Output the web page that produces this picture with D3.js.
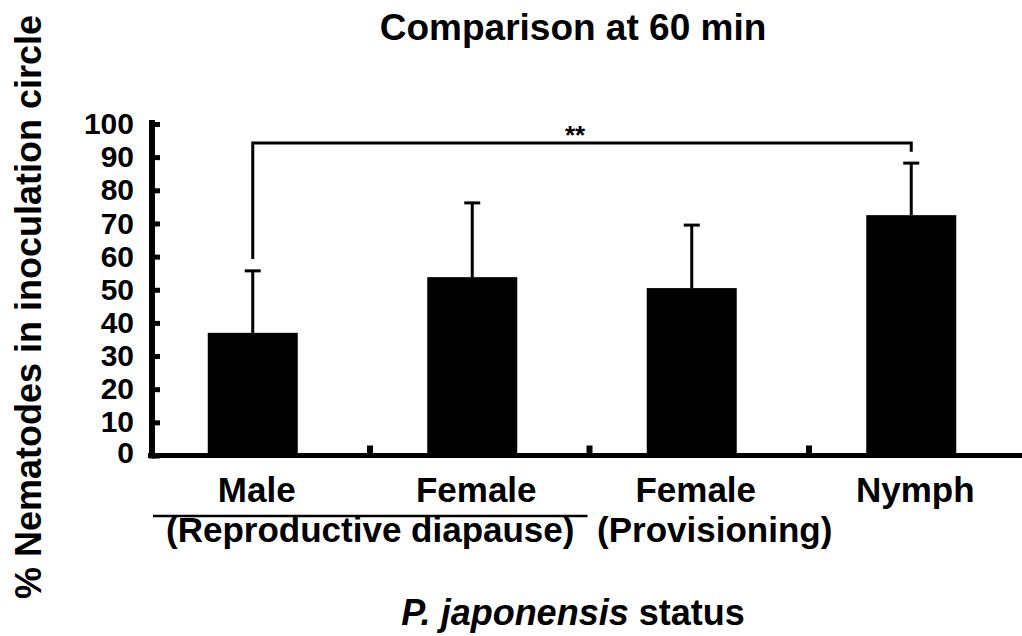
<!DOCTYPE html>
<html>
<head>
<meta charset="utf-8">
<script src="https://cdn.jsdelivr.net/npm/d3@7"></script>
<style>
  html, body { margin: 0; padding: 0; background: #fff; }
  svg { display: block; }
  text { font-family: "Liberation Sans", Arial, sans-serif; font-weight: bold; fill: #000; }
</style>
</head>
<body>
<svg id="chart" width="1022" height="636"></svg>
<script>
// ---- data ----
const categories = ["Male", "Female (diapause)", "Female (provisioning)", "Nymph"];
const categoryLabels = ["Male", "Female", "Female", "Nymph"];
const means = [37.0, 53.8, 50.5, 72.5];
const sds = [18.7, 22.4, 19.0, 15.7];
const yTicks = [0, 10, 20, 30, 40, 50, 60, 70, 80, 90, 100];
const groupLabels = ["(Reproductive diapause)", "(Provisioning)"];
const bracketPair = ["Male", "Nymph"];
const bracketLevels = [59.3, 94.3, 91.6]; // left end, top, right end
const bracketLabel = "**";
const titleText = "Comparison at 60 min";
const yTitle = "% Nematodes in inoculation circle";

// ---- layout ----
const svg = d3.select("#chart");
const x0 = 152, x1 = 1022, yBase = 455.5, yTop = 124;

const x = d3.scaleBand().domain(categories).range([143, 1021])
  .paddingInner(0.59).paddingOuter(0.295);
const y = d3.scaleLinear().domain([0, 100]).range([yBase, yTop]);
const cx = c => x(c) + x.bandwidth() / 2;

// Title
svg.append("text").attr("x", 573).attr("y", 40).attr("text-anchor", "middle")
  .style("font-size", "37px").text(titleText);

// Y title
svg.append("text").attr("transform", "translate(41,307) rotate(-90)")
  .attr("text-anchor", "middle").style("font-size", "36px").text(yTitle);

// Bars
svg.append("g").selectAll("rect").data(categories).join("rect")
  .attr("x", d => x(d)).attr("width", x.bandwidth())
  .attr("y", (d, i) => y(means[i])).attr("height", (d, i) => y(0) - y(means[i]))
  .attr("fill", "#000");

// Error bars
const eb = svg.append("g").attr("stroke", "#000").attr("stroke-width", 3);
categories.forEach((c, i) => {
  eb.append("line").attr("x1", cx(c)).attr("x2", cx(c))
    .attr("y1", y(means[i])).attr("y2", y(means[i] + sds[i]));
  eb.append("line").attr("x1", cx(c) - 8).attr("x2", cx(c) + 8)
    .attr("y1", y(means[i] + sds[i])).attr("y2", y(means[i] + sds[i]));
});

// Y axis
const yAxis = d3.axisLeft(y).tickValues(yTicks).tickSize(-8).tickSizeOuter(0).tickPadding(18);
const gy = svg.append("g").attr("transform", `translate(${x0},0)`).call(yAxis);
gy.select(".domain").attr("stroke", "#000").attr("stroke-width", 6)
  .attr("d", `M0,${yTop - 4}V${yBase + 3}`);
gy.selectAll(".tick line").attr("stroke", "#000").attr("stroke-width", 5);
gy.selectAll(".tick text").style("font-size", "30px")
  .style("font-family", "'Liberation Sans', Arial, sans-serif").style("font-weight", "bold")
  .attr("fill", "#000");
gy.selectAll(".tick").filter(d => d === 0).select("text").attr("y", -3);

// X axis line
svg.append("line").attr("x1", x0 - 4).attr("x2", x1).attr("y1", yBase).attr("y2", yBase)
  .attr("stroke", "#000").attr("stroke-width", 5);

// Separator ticks between categories
const sepX = categories.slice(0, -1).map(c => x(c) + x.bandwidth() / 2 + x.step() / 2 + 7.5);
svg.append("g").selectAll("line").data(sepX).join("line")
  .attr("x1", d => d).attr("x2", d => d).attr("y1", yBase).attr("y2", yBase - 10)
  .attr("stroke", "#000").attr("stroke-width", 6);

// Category labels
svg.append("g").selectAll("text").data(categories).join("text")
  .attr("x", d => cx(d) + 4).attr("y", 502).attr("text-anchor", "middle")
  .style("font-size", "35px").text((d, i) => categoryLabels[i]);

// Group labels
const gx0 = x0 + 1, gx1 = sepX[1] - 2;
svg.append("line").attr("x1", gx0).attr("x2", gx1).attr("y1", 516).attr("y2", 516)
  .attr("stroke", "#000").attr("stroke-width", 2.5);
svg.append("text").attr("x", (gx0 + gx1) / 2).attr("y", 542).attr("text-anchor", "middle")
  .style("font-size", "35px").text(groupLabels[0]);
svg.append("text").attr("x", cx(categories[2]) + 23).attr("y", 542).attr("text-anchor", "middle")
  .style("font-size", "35px").text(groupLabels[1]);

// X title
const xt = svg.append("text").attr("x", 573).attr("y", 625).attr("text-anchor", "middle")
  .style("font-size", "36px");
xt.append("tspan").style("font-style", "italic").text("P. japonensis");
xt.append("tspan").text(" status");

// Significance bracket
const bx0 = cx(bracketPair[0]), bx1 = cx(bracketPair[1]);
svg.append("path")
  .attr("d", `M${bx0},${y(bracketLevels[0])}V${y(bracketLevels[1])}H${bx1}V${y(bracketLevels[2])}`)
  .attr("fill", "none").attr("stroke", "#000").attr("stroke-width", 3);
svg.append("text").attr("x", (bx0 + bx1) / 2 - 7).attr("y", y(bracketLevels[1]) + 1)
  .attr("text-anchor", "middle").style("font-size", "26px").text(bracketLabel);
</script>
</body>
</html>
